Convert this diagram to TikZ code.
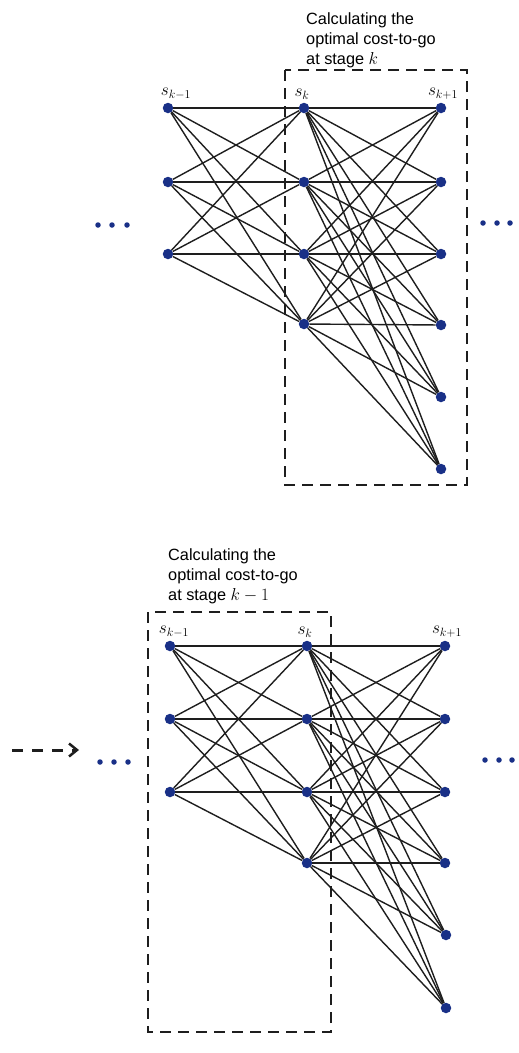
\documentclass[tikz,border=0pt]{standalone}
\usepackage{fontspec}
\setsansfont{Liberation Sans}
\usetikzlibrary{arrows.meta}
\definecolor{nodeblue}{RGB}{25,48,135}
\definecolor{inkline}{RGB}{30,30,30}
\begin{document}
\begin{tikzpicture}[x=1pt,y=-1pt,
  dot/.style={circle,fill=nodeblue,inner sep=0pt,minimum size=10.5pt},
  smalldot/.style={circle,fill=nodeblue,inner sep=0pt,minimum size=5.5pt},
  edge/.style={line width=1.4pt,inkline},
  box/.style={dash pattern=on 11pt off 7pt,line width=1.8pt,inkline},
  lab/.style={font=\fontsize{17}{19}\selectfont,inner sep=0pt},
  title/.style={font=\sffamily\fontsize{16.3}{20}\selectfont,align=left,anchor=north west,inner sep=0pt}
]
\useasboundingbox (0,0) rectangle (519,1053);

% ---------------- top graph ----------------
\node[title] (t1) at (306,12) {Calculating the\\optimal cost-to-go\\at stage $k$};
\draw[box] (285,70) rectangle (467,485);

\node[dot] (a1) at (168,108) {};
\node[dot] (a2) at (168,182) {};
\node[dot] (a3) at (168,254) {};
\node[dot] (b1) at (304,108) {};
\node[dot] (b2) at (304,182) {};
\node[dot] (b3) at (304,254) {};
\node[dot] (b4) at (304,324) {};
\node[dot] (c1) at (441,108) {};
\node[dot] (c2) at (441,182) {};
\node[dot] (c3) at (441,254) {};
\node[dot] (c4) at (441,325) {};
\node[dot] (c5) at (441,397) {};
\node[dot] (c6) at (441,469) {};

\foreach \i in {1,2,3}{\foreach \j in {1,2,3,4}{\draw[edge] (a\i) -- (b\j);}}
\foreach \i in {1,2,3,4}{\foreach \j in {1,...,6}{\draw[edge] (b\i) -- (c\j);}}

\node[lab] (la) at (176,94) {$s_{k-1}$};
\node[lab] (lb) at (302,94) {$s_{k}$};
\node[lab] (lc) at (443,94) {$s_{k+1}$};

\node[smalldot] (d1) at (98,225) {};
\node[smalldot] (d2) at (112,225) {};
\node[smalldot] (d3) at (127,225) {};
\node[smalldot] (e1) at (483,223) {};
\node[smalldot] (e2) at (497,223) {};
\node[smalldot] (e3) at (510,223) {};

% ---------------- bottom graph ----------------
\node[title] (t2) at (168,548) {Calculating the\\optimal cost-to-go\\at stage $k-1$};
\draw[box] (148,612) rectangle (331,1032);

\node[dot] (p1) at (170,646) {};
\node[dot] (p2) at (170,719) {};
\node[dot] (p3) at (170,792) {};
\node[dot] (q1) at (307,646) {};
\node[dot] (q2) at (307,719) {};
\node[dot] (q3) at (307,792) {};
\node[dot] (q4) at (307,863) {};
\node[dot] (r1) at (445,646) {};
\node[dot] (r2) at (445,719) {};
\node[dot] (r3) at (445,792) {};
\node[dot] (r4) at (445,863) {};
\node[dot] (r5) at (446,935) {};
\node[dot] (r6) at (446,1008) {};

\foreach \i in {1,2,3}{\foreach \j in {1,2,3,4}{\draw[edge] (p\i) -- (q\j);}}
\foreach \i in {1,2,3,4}{\foreach \j in {1,...,6}{\draw[edge] (q\i) -- (r\j);}}

\node[lab] (lp) at (174,632) {$s_{k-1}$};
\node[lab] (lq) at (305,632) {$s_{k}$};
\node[lab] (lr) at (447,632) {$s_{k+1}$};

\node[smalldot] (f1) at (100,762) {};
\node[smalldot] (f2) at (114,762) {};
\node[smalldot] (f3) at (128,762) {};
\node[smalldot] (g1) at (485,760) {};
\node[smalldot] (g2) at (499,760) {};
\node[smalldot] (g3) at (512,760) {};

\coordinate (arrs) at (12,750);
\coordinate (arre) at (79,750);
\draw[line width=3pt,inkline,dash pattern=on 11pt off 9pt,-{Straight Barb[length=8pt,width=13pt,line width=2.5pt]}] (arrs) -- (arre);
\end{tikzpicture}
\end{document}
